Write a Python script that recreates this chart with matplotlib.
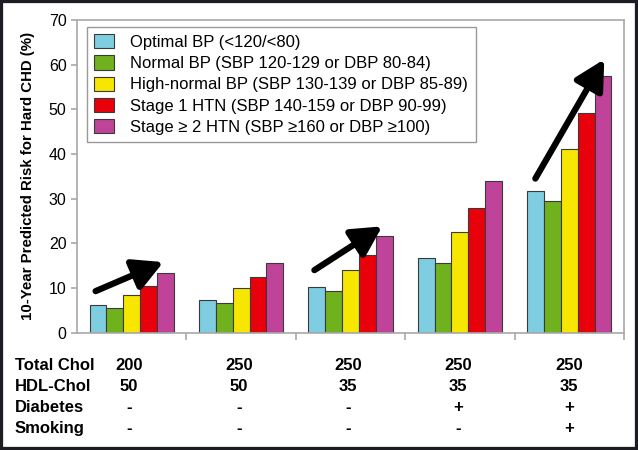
import numpy as np
import matplotlib.pyplot as plt
from matplotlib.patches import Patch, Rectangle

plt.rcParams['font.family'] = ['Liberation Sans', 'DejaVu Sans']

# bar values (% 10-year risk)
series_labels = ['Optimal BP (<120/<80)',
                 'Normal BP (SBP 120-129 or DBP 80-84)',
                 'High-normal BP (SBP 130-139 or DBP 85-89)',
                 'Stage 1 HTN (SBP 140-159 or DBP 90-99)',
                 'Stage \u2265 2 HTN (SBP \u2265160 or DBP \u2265100)']
colors = ['#7ecde0', '#70b11e', '#f7e600', '#e8000b', '#bf4499']
optimal = [6.2, 7.3, 10.3, 16.8, 31.8]
normal = [5.6, 6.6, 9.4, 15.5, 29.4]
high_normal = [8.4, 10.0, 14.1, 22.6, 41.2]
stage1 = [10.4, 12.5, 17.4, 27.8, 49.1]
stage2 = [13.3, 15.5, 21.6, 33.9, 57.4]
values = [optimal, normal, high_normal, stage1, stage2]

# risk factor table under the chart
row_names = ['Total Chol', 'HDL-Chol', 'Diabetes', 'Smoking']
total_chol = ['200', '250', '250', '250', '250']
hdl_chol = ['50', '50', '35', '35', '35']
diabetes = ['-', '-', '-', '+', '+']
smoking = ['-', '-', '-', '-', '+']
table_rows = [total_chol, hdl_chol, diabetes, smoking]

# trend arrows (start, end) in data coords
arrows = [((-0.33, 9.3), (0.29, 15.8)),
          ((1.67, 14.0), (2.29, 23.8)),
          ((3.69, 34.5), (4.32, 61.2))]

fig = plt.figure(figsize=(6.38, 4.5), dpi=100)
ax = fig.add_axes([0.1207, 0.2607, 0.8573, 0.6949])

x = np.arange(len(optimal))
w = 0.154
for k, (vals, c, lab) in enumerate(zip(values, colors, series_labels)):
    ax.bar(x + (k - 2) * w, vals, w, color=c, edgecolor='#3a3a3a', linewidth=0.8, label=lab)

for (x0, y0), (x1, y1) in arrows:
    ax.annotate('', xy=(x1, y1), xytext=(x0, y0),
                arrowprops=dict(arrowstyle='-|>,head_width=0.48,head_length=0.9',
                                lw=4.5, color='black', mutation_scale=20,
                                shrinkA=0, shrinkB=0))

ax.set_xlim(-0.5, 4.5)
ax.set_ylim(0, 70)
ax.set_yticks(range(0, 71, 10))
ax.set_xticks(np.arange(0.5, 4.6, 1.0))
ax.set_xticklabels([])
for s in ax.spines.values():
    s.set_color('#a8a8a8')
    s.set_linewidth(1.2)
ax.tick_params(axis='y', colors='#a8a8a8', labelcolor='black', labelsize=11.5, length=4, width=1.2)
ax.tick_params(axis='x', colors='#a8a8a8', length=5, width=1.2)
ax.set_ylabel('10-Year Predicted Risk for Hard CHD (%)', fontsize=10.8, fontweight='bold', labelpad=10)

handles = [Patch(facecolor=c, edgecolor='#3a3a3a', linewidth=0.8) for c in colors]
leg = ax.legend(handles, series_labels, loc='upper left', bbox_to_anchor=(0.018, 0.979),
                borderaxespad=0, fontsize=12, frameon=True, fancybox=False,
                handlelength=1.15, handleheight=0.95, labelspacing=0.32, handletextpad=1.0,
                borderpad=0.45)
leg.get_frame().set_edgecolor('#808080')
leg.get_frame().set_linewidth(1.0)

row_y = [366, 386.7, 407.3, 428]
col_x = [129, 239, 348, 458, 569]
for name, vals, py in zip(row_names, table_rows, row_y):
    fig.text(15 / 638, 1 - py / 450, name, fontsize=12, fontweight='bold', va='center', ha='left')
    for v, px in zip(vals, col_x):
        fig.text(px / 638, 1 - py / 450, v, fontsize=12, fontweight='bold', va='center', ha='center')

fig.patches.append(Rectangle((0, 0), 1, 1, transform=fig.transFigure, fill=False,
                             edgecolor='#1c1c22', linewidth=4.5))

fig.savefig('out.png', dpi=100)
